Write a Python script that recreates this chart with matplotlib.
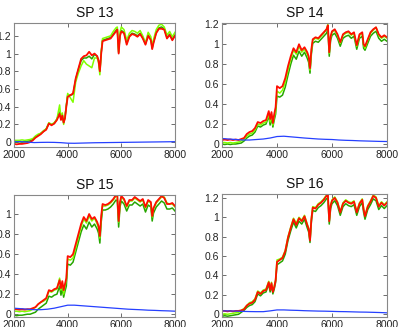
import matplotlib
matplotlib.use("Agg")
import matplotlib.pyplot as plt

wn = [2000, 2100, 2200, 2300, 2400, 2500, 2600, 2700, 2800, 2900, 3000, 3100, 3200, 3300,
      3400, 3500, 3600, 3700, 3750, 3800, 3850, 3900, 3950, 4000, 4100, 4200, 4300, 4400,
      4500, 4600, 4700, 4800, 4900, 5000, 5100, 5150, 5200, 5250, 5300, 5400, 5500, 5600,
      5700, 5800, 5850, 5900, 5950, 6000, 6100, 6200, 6300, 6400, 6500, 6600, 6700, 6800,
      6900, 7000, 7100, 7150, 7200, 7300, 7400, 7500, 7600, 7700, 7800, 7900, 8000]
wn_blue = [2000, 2250, 2500, 2750, 3000, 3250, 3500, 3750, 4000, 4250, 4500, 4750, 5000,
           5250, 5500, 5750, 6000, 6250, 6500, 6750, 7000, 7250, 7500, 7750, 8000]

titles = ["SP 13", "SP 14", "SP 15", "SP 16"]

red13 = [-0.02, -0.025, -0.02, -0.02, -0.015, -0.01, 0.0, 0.02, 0.05, 0.07, 0.09, 0.12, 0.14, 0.21,
         0.19, 0.21, 0.25, 0.32, 0.25, 0.30, 0.22, 0.27, 0.40, 0.51, 0.53, 0.55, 0.72, 0.83,
         0.94, 0.97, 0.98, 1.02, 0.98, 1.00, 0.97, 0.92, 0.80, 1.00, 1.14, 1.15, 1.16, 1.17,
         1.21, 1.25, 1.27, 1.00, 1.20, 1.25, 1.23, 1.10, 1.19, 1.22, 1.21, 1.19, 1.22, 1.17,
         1.10, 1.20, 1.15, 1.05, 1.12, 1.23, 1.28, 1.28, 1.27, 1.17, 1.21, 1.15, 1.20]
lg13 = [0.02, 0.02, 0.02, 0.025, 0.02, 0.025, 0.03, 0.04, 0.07, 0.09, 0.10, 0.13, 0.15, 0.22,
        0.20, 0.22, 0.26, 0.42, 0.27, 0.33, 0.20, 0.28, 0.42, 0.55, 0.50, 0.45, 0.68, 0.78,
        0.86, 0.92, 0.88, 0.86, 0.84, 0.95, 0.95, 0.90, 0.76, 1.02, 1.17, 1.18, 1.19, 1.20,
        1.25, 1.29, 1.30, 1.02, 1.24, 1.30, 1.27, 1.15, 1.23, 1.26, 1.25, 1.23, 1.26, 1.20,
        1.12, 1.24, 1.19, 1.08, 1.16, 1.27, 1.32, 1.33, 1.30, 1.21, 1.25, 1.19, 1.24]
dg13 = [0.0, 0.0, 0.005, 0.0, 0.005, 0.01, 0.015, 0.03, 0.06, 0.08, 0.10, 0.12, 0.15, 0.21,
        0.20, 0.21, 0.26, 0.34, 0.26, 0.31, 0.22, 0.28, 0.41, 0.53, 0.53, 0.54, 0.71, 0.82,
        0.92, 0.95, 0.95, 0.97, 0.94, 0.99, 0.97, 0.92, 0.80, 1.01, 1.15, 1.16, 1.17, 1.18,
        1.22, 1.26, 1.28, 1.01, 1.21, 1.26, 1.24, 1.12, 1.20, 1.23, 1.22, 1.20, 1.23, 1.18,
        1.11, 1.21, 1.16, 1.06, 1.13, 1.24, 1.29, 1.30, 1.28, 1.18, 1.22, 1.16, 1.21]
blue13 = [0.005, 0.005, 0.0, -0.005, -0.003, -0.002, -0.003, -0.006, -0.012, -0.013, -0.011,
          -0.009, -0.007, -0.006, -0.005, -0.004, -0.003, -0.002, -0.001, 0.0, 0.001, 0.002,
          0.003, 0.004, 0.005]

red14 = [0.04, 0.045, 0.04, 0.045, 0.04, 0.045, 0.04, 0.05, 0.06, 0.10, 0.12, 0.13, 0.16, 0.22,
         0.21, 0.23, 0.24, 0.33, 0.25, 0.32, 0.21, 0.30, 0.37, 0.58, 0.56, 0.58, 0.66, 0.78,
         0.88, 0.96, 0.92, 1.00, 0.94, 0.97, 0.92, 0.88, 0.76, 0.95, 1.05, 1.07, 1.06, 1.09,
         1.12, 1.15, 1.19, 0.92, 1.08, 1.13, 1.15, 1.10, 1.02, 1.10, 1.12, 1.13, 1.10, 1.12,
         0.99, 1.10, 1.12, 1.00, 0.98, 1.05, 1.12, 1.15, 1.17, 1.10, 1.07, 1.09, 1.07]
lg14 = [0.015, 0.015, 0.01, 0.015, 0.01, 0.015, 0.02, 0.03, 0.05, 0.08, 0.10, 0.11, 0.14, 0.20,
        0.19, 0.21, 0.22, 0.30, 0.22, 0.29, 0.19, 0.27, 0.33, 0.53, 0.51, 0.54, 0.62, 0.74,
        0.85, 0.94, 0.90, 0.98, 0.92, 0.95, 0.90, 0.86, 0.74, 0.93, 1.04, 1.06, 1.05, 1.08,
        1.11, 1.15, 1.20, 0.91, 1.07, 1.12, 1.14, 1.09, 1.01, 1.09, 1.11, 1.12, 1.09, 1.11,
        0.98, 1.09, 1.11, 0.99, 0.96, 1.04, 1.11, 1.14, 1.17, 1.09, 1.06, 1.08, 1.06]
dg14 = [0.0, -0.005, 0.0, -0.005, 0.0, 0.0, 0.005, 0.01, 0.03, 0.06, 0.08, 0.09, 0.12, 0.18,
        0.17, 0.19, 0.20, 0.28, 0.19, 0.27, 0.17, 0.24, 0.30, 0.48, 0.47, 0.49, 0.57, 0.69,
        0.80, 0.89, 0.85, 0.93, 0.88, 0.92, 0.86, 0.82, 0.71, 0.90, 1.01, 1.03, 1.02, 1.05,
        1.08, 1.11, 1.15, 0.88, 1.04, 1.09, 1.11, 1.06, 0.98, 1.06, 1.08, 1.09, 1.06, 1.08,
        0.95, 1.06, 1.08, 0.96, 0.94, 1.01, 1.08, 1.11, 1.13, 1.06, 1.03, 1.05, 1.03]
blue14 = [0.055, 0.05, 0.045, 0.04, 0.04, 0.045, 0.05, 0.06, 0.075, 0.078, 0.072, 0.066,
          0.06, 0.055, 0.05, 0.047, 0.045, 0.04, 0.037, 0.035, 0.032, 0.03, 0.028, 0.026, 0.025]

red15 = [0.05, 0.05, 0.045, 0.05, 0.045, 0.05, 0.05, 0.06, 0.07, 0.10, 0.12, 0.14, 0.16, 0.24,
         0.23, 0.25, 0.26, 0.34, 0.26, 0.33, 0.24, 0.30, 0.36, 0.58, 0.57, 0.60, 0.70, 0.80,
         0.90, 0.97, 0.93, 1.00, 0.95, 0.97, 0.92, 0.88, 0.78, 0.98, 1.10, 1.09, 1.10, 1.12,
         1.15, 1.19, 1.18, 0.93, 1.12, 1.18, 1.15, 1.08, 1.14, 1.14, 1.17, 1.15, 1.13, 1.15,
         1.07, 1.14, 1.12, 0.98, 1.06, 1.12, 1.15, 1.18, 1.16, 1.10, 1.10, 1.11, 1.08]
lg15 = [0.03, 0.03, 0.025, 0.03, 0.025, 0.03, 0.035, 0.05, 0.07, 0.10, 0.12, 0.13, 0.15, 0.23,
        0.22, 0.24, 0.25, 0.36, 0.24, 0.31, 0.20, 0.28, 0.34, 0.55, 0.54, 0.56, 0.66, 0.77,
        0.87, 0.95, 0.91, 0.98, 0.93, 0.96, 0.90, 0.86, 0.76, 0.96, 1.08, 1.08, 1.09, 1.11,
        1.14, 1.18, 1.19, 0.92, 1.11, 1.17, 1.14, 1.07, 1.13, 1.13, 1.16, 1.14, 1.12, 1.14,
        1.06, 1.13, 1.11, 0.97, 1.05, 1.11, 1.14, 1.17, 1.17, 1.11, 1.10, 1.10, 1.07]
dg15 = [-0.01, -0.015, -0.01, -0.01, -0.005, 0.0, 0.0, 0.01, 0.02, 0.05, 0.07, 0.09, 0.11, 0.18,
        0.17, 0.19, 0.20, 0.28, 0.19, 0.26, 0.17, 0.23, 0.28, 0.50, 0.49, 0.52, 0.62, 0.72,
        0.82, 0.89, 0.85, 0.92, 0.87, 0.90, 0.85, 0.81, 0.71, 0.92, 1.04, 1.04, 1.05, 1.07,
        1.10, 1.14, 1.13, 0.87, 1.07, 1.13, 1.10, 1.03, 1.09, 1.09, 1.12, 1.10, 1.08, 1.10,
        1.02, 1.09, 1.07, 0.93, 1.01, 1.07, 1.10, 1.13, 1.11, 1.05, 1.05, 1.06, 1.03]
blue15 = [0.06, 0.055, 0.05, 0.045, 0.045, 0.05, 0.06, 0.075, 0.09, 0.09, 0.085, 0.08, 0.075,
          0.07, 0.065, 0.06, 0.055, 0.05, 0.047, 0.044, 0.04, 0.038, 0.035, 0.033, 0.03]

red16 = [0.035, 0.035, 0.03, 0.035, 0.03, 0.035, 0.035, 0.04, 0.05, 0.09, 0.11, 0.12, 0.15, 0.23,
         0.21, 0.24, 0.25, 0.33, 0.25, 0.32, 0.23, 0.28, 0.35, 0.54, 0.56, 0.58, 0.65, 0.79,
         0.89, 0.98, 0.92, 0.99, 0.96, 1.01, 0.92, 0.88, 0.76, 0.98, 1.10, 1.09, 1.13, 1.15,
         1.18, 1.22, 1.23, 0.96, 1.12, 1.17, 1.20, 1.15, 1.05, 1.14, 1.17, 1.15, 1.14, 1.16,
         1.05, 1.14, 1.18, 1.08, 1.01, 1.11, 1.16, 1.22, 1.20, 1.11, 1.15, 1.12, 1.15]
lg16 = [0.0, 0.005, 0.0, 0.005, 0.01, 0.015, 0.02, 0.04, 0.06, 0.09, 0.12, 0.13, 0.16, 0.24,
        0.22, 0.25, 0.26, 0.34, 0.26, 0.33, 0.24, 0.29, 0.36, 0.56, 0.57, 0.59, 0.66, 0.80,
        0.90, 0.99, 0.94, 1.00, 0.97, 1.02, 0.93, 0.89, 0.77, 0.99, 1.11, 1.10, 1.14, 1.16,
        1.19, 1.23, 1.25, 0.97, 1.13, 1.18, 1.21, 1.16, 1.06, 1.15, 1.18, 1.16, 1.15, 1.17,
        1.06, 1.15, 1.19, 1.09, 1.02, 1.12, 1.17, 1.23, 1.21, 1.12, 1.16, 1.13, 1.16]
dg16 = [-0.02, -0.015, -0.02, -0.015, -0.01, -0.005, 0.0, 0.02, 0.04, 0.07, 0.09, 0.10, 0.13, 0.21,
        0.19, 0.22, 0.23, 0.31, 0.23, 0.30, 0.21, 0.26, 0.33, 0.51, 0.53, 0.55, 0.62, 0.76,
        0.86, 0.95, 0.89, 0.96, 0.93, 0.98, 0.89, 0.85, 0.74, 0.95, 1.07, 1.06, 1.10, 1.12,
        1.15, 1.19, 1.20, 0.93, 1.09, 1.14, 1.17, 1.12, 1.02, 1.11, 1.14, 1.12, 1.11, 1.13,
        1.02, 1.11, 1.15, 1.05, 0.98, 1.08, 1.13, 1.19, 1.17, 1.08, 1.12, 1.09, 1.12]
blue16 = [0.035, 0.035, 0.033, 0.03, 0.028, 0.027, 0.027, 0.035, 0.045, 0.045, 0.042, 0.04,
          0.037, 0.035, 0.033, 0.032, 0.03, 0.028, 0.027, 0.025, 0.023, 0.022, 0.02, 0.018, 0.015]

reds = [red13, red14, red15, red16]
lgreens = [lg13, lg14, lg15, lg16]
dgreens = [dg13, dg14, dg15, dg16]
blues = [blue13, blue14, blue15, blue16]

ylims = [(-0.055, 1.345), (-0.03, 1.213), (-0.028, 1.19), (-0.028, 1.24)]
yticks = [[0, 0.2, 0.4, 0.6, 0.8, 1, 1.2], [0, 0.2, 0.4, 0.6, 0.8, 1, 1.2],
          [0, 0.2, 0.4, 0.6, 0.8, 1], [0, 0.2, 0.4, 0.6, 0.8, 1, 1.2]]
ytlabels = [["0", "0.2", "0.4", "0.6", "0.8", "1", "1.2"], ["0", "0.2", "0.4", "0.6", "0.8", "1", "1.2"],
            ["0", "0.2", "0.4", "0.6", "0.8", "1"], ["0", "0.2", "0.4", "0.6", "0.8", "1", "1.2"]]
xticks = [2000, 4000, 6000, 8000]

W, H = 399, 327
boxes = [(14, 23, 175, 147), (222, 23, 387, 147), (14, 195, 175, 317), (222, 194, 387, 317)]

plt.rcParams['font.family'] = ['Liberation Sans', 'DejaVu Sans']
fig = plt.figure(figsize=(W / 100, H / 100), dpi=100)

for i in range(4):
    x0, y0, x1, y1 = boxes[i]
    ax = fig.add_axes([x0 / W, 1 - y1 / H, (x1 - x0) / W, (y1 - y0) / H])
    ax.plot(wn, dgreens[i], color=(0.15, 0.65, 0.0), lw=1.1)
    ax.plot(wn, lgreens[i], color=(0.5, 1.0, 0.0), lw=1.1)
    ax.plot(wn, reds[i], color=(1.0, 0.05, 0.0), lw=1.3)
    ax.plot(wn_blue, blues[i], color=(0.15, 0.25, 1.0), lw=0.9)
    ax.set_xlim(2000, 8000)
    ax.set_ylim(*ylims[i])
    ax.set_xticks(xticks)
    ax.set_xticklabels([str(t) for t in xticks])
    ax.set_yticks(yticks[i])
    ax.set_yticklabels(ytlabels[i])
    ax.tick_params(direction='in', length=3, width=0.6, top=True, right=True,
                   labelsize=7.5, colors='#555555', labelcolor='#222222', pad=2)
    for s in ax.spines.values():
        s.set_color('#888888')
        s.set_linewidth(0.8)
    ax.set_title(titles[i], fontsize=10, pad=4, color='#111111')

fig.savefig("out.png", dpi=100)
